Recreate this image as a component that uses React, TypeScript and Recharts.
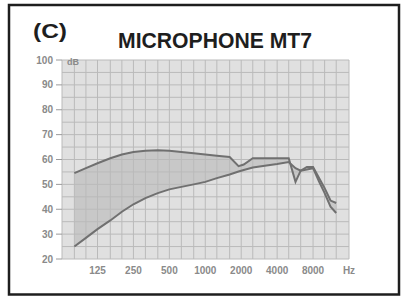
import { ComposedChart, Line, Area, XAxis, YAxis, CartesianGrid, ReferenceLine } from "recharts";

// frequency points (Hz)
const FREQ = [80, 100, 125, 160, 200, 250, 315, 400, 500, 630, 800, 1000, 1250, 1600, 1900, 2100, 2500, 3150, 4000, 5000, 5700, 6300, 7100, 8000, 9000, 10000, 11200, 12500];
const UPPER = [54.5, 56.5, 58.5, 60.5, 62, 63, 63.5, 63.7, 63.5, 63, 62.5, 62, 61.5, 61, 57.3, 58, 60.5, 60.5, 60.5, 60.5, 51, 55.5, 57, 57, 52.5, 48.5, 43.5, 42.5];
const LOWER = [25, 28.5, 32, 35.5, 39, 42, 44.5, 46.5, 48, 49, 50, 51, 52.5, 54, 55.2, 55.8, 56.8, 57.5, 58.2, 59, 56.5, 55.5, 56, 56.5, 51, 46.5, 41, 38.5];

const X_TICKS = [125, 250, 500, 1000, 2000, 4000, 8000, 16000];
const X_LABELS = ["125", "250", "500", "1000", "2000", "4000", "8000", "Hz"];
const Y_TICKS = [20, 30, 40, 50, 60, 70, 80, 90, 100];

// third-octave grid and 5 dB grid
const GRID_FREQ = [63, 80, 100, 125, 160, 200, 250, 315, 400, 500, 630, 800, 1000, 1250, 1600, 2000, 2500, 3150, 4000, 5000, 6300, 8000, 10000, 12500, 16000];
const GRID_DB = [20, 25, 30, 35, 40, 45, 50, 55, 60, 65, 70, 75, 80, 85, 90, 95, 100];

const data = FREQ.map((f, i) => ({ f, upper: UPPER[i], lower: LOWER[i] }));

const W = 403;
const H = 297;
const tickStyle = { fontSize: 10, fill: "#8a8a8a", fontWeight: 700, fontFamily: "Liberation Sans, Arial, sans-serif" };

export default function App() {
  return (
    <div style={{ position: "absolute", left: 0, top: 0, width: W, height: H, background: "#fff" }}>
      <ComposedChart width={W} height={H} data={data} margin={{ top: 60, right: 54, bottom: 8, left: 0 }}>
        <CartesianGrid vertical={false} horizontal={false} fill="#e0e0e0" fillOpacity={1} />
        <XAxis
          dataKey="f"
          type="number"
          scale="log"
          domain={[63, 16000]}
          ticks={X_TICKS}
          tickFormatter={(v) => X_LABELS[X_TICKS.indexOf(v)] ?? ""}
          axisLine={false}
          tickLine={false}
          tick={tickStyle}
          height={30}
          interval={0}
        />
        <YAxis
          type="number"
          domain={[20, 100]}
          ticks={Y_TICKS}
          axisLine={false}
          tickLine={{ stroke: "#9a9a9a" }}
          tickSize={6}
          tickMargin={3}
          tick={tickStyle}
          width={62}
          interval={0}
        />
        {GRID_FREQ.map((f) => (
          <ReferenceLine key={"x" + f} x={f} stroke="#bababa" strokeWidth={1} />
        ))}
        {GRID_DB.map((v) => (
          <ReferenceLine key={"y" + v} y={v} stroke="#bababa" strokeWidth={1} />
        ))}
        <Area
          dataKey={(d: any) => [d.lower, d.upper]}
          type="linear"
          stroke="none"
          fill="#9a9a9a"
          fillOpacity={0.35}
          isAnimationActive={false}
        />
        <Line dataKey="upper" type="linear" stroke="#707070" strokeWidth={2} dot={false} isAnimationActive={false} />
        <Line dataKey="lower" type="linear" stroke="#707070" strokeWidth={2} dot={false} isAnimationActive={false} />
      </ComposedChart>
      <svg width={W} height={H} style={{ position: "absolute", left: 0, top: 0, pointerEvents: "none" }}>
        <rect x={9} y={5} width={390} height={289.5} fill="none" stroke="#1e1e1e" strokeWidth={2.5} />
        <text
          x={33}
          y={38}
          textLength={34}
          lengthAdjust="spacingAndGlyphs"
          fontSize={21}
          fontWeight={700}
          fill="#1e1e1e"
          fontFamily="Liberation Sans Narrow, Liberation Sans, Arial, sans-serif"
        >
          (C)
        </text>
        <text
          x={118}
          y={48}
          textLength={194}
          lengthAdjust="spacingAndGlyphs"
          fontSize={22}
          fontWeight={700}
          fill="#1e1e1e"
          fontFamily="Liberation Sans Narrow, Liberation Sans, Arial, sans-serif"
        >
          MICROPHONE MT7
        </text>
        <text x={67} y={65} fontSize={9} fontWeight={700} fill="#8a8a8a" fontFamily="Liberation Sans, Arial, sans-serif">
          dB
        </text>
      </svg>
    </div>
  );
}
